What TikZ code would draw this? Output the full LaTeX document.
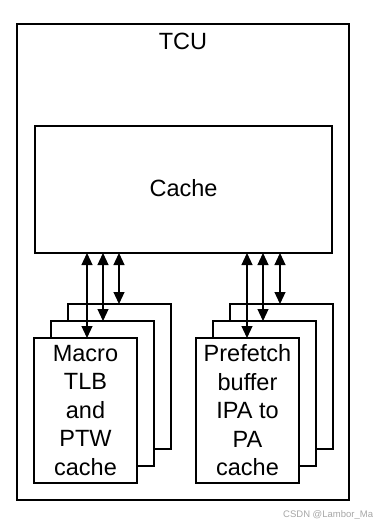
\documentclass[tikz,border=0pt]{standalone}
\usepackage{fontspec}
\setmainfont{Liberation Sans}
\usetikzlibrary{arrows.meta}
\begin{document}
\begin{tikzpicture}[x=1pt,y=-1pt,
  outerbox/.style={draw, line width=2pt, inner sep=0pt, outer sep=0pt, anchor=north west},
  blk/.style={draw, line width=1.2pt, fill=white, inner sep=0pt, outer sep=0pt, anchor=north west,
    minimum width=103pt, minimum height=145pt, align=center,
    font=\fontsize{23.5}{28.5}\selectfont},
  dbl/.style={line width=1.2pt, {Triangle[length=12pt,width=11pt]}-{Triangle[length=12pt,width=11pt]}},
  lbl/.style={font=\fontsize{23.5}{28}\selectfont, inner sep=0pt}]
\useasboundingbox (0,0) rectangle (372,527);
% outer TCU box
\node[outerbox, minimum width=332pt, minimum height=476pt] (tcu) at (17,24) {};
\node[lbl, anchor=base] (tcut) at (183,49) {TCU};
% cache
\node[blk, minimum width=297pt, minimum height=127pt] (cache) at (35,126) {};
\node[lbl, anchor=base] (cachet) at (183.5,196) {Cache};
% left stack
\node[blk] (lb) at (68,304) {};
\node[blk] (lm) at (51,321) {};
\node[blk] (lf) at (34,338) {Macro\\TLB\\and\\PTW\\cache};
% right stack
\node[blk] (rb) at (230,304) {};
\node[blk] (rm) at (213,321) {};
\node[blk] (rf) at (196,338) {Prefetch\\buffer\\IPA to\\PA\\cache};
% arrow end points
\coordinate (l1) at (87,338);
\coordinate (l2) at (103,321);
\coordinate (l3) at (119,304);
\coordinate (r1) at (247,338);
\coordinate (r2) at (263,321);
\coordinate (r3) at (280,304);
\foreach \p in {l1,l2,l3,r1,r2,r3}
  \draw[dbl] (cache.south -| \p) -- (\p);
% watermark
\node[anchor=base west, text=black!35, font=\fontsize{9.5}{10}\selectfont, inner sep=0pt] (wm) at (283,517) {CSDN @Lambor\_Ma};
\end{tikzpicture}
\end{document}
